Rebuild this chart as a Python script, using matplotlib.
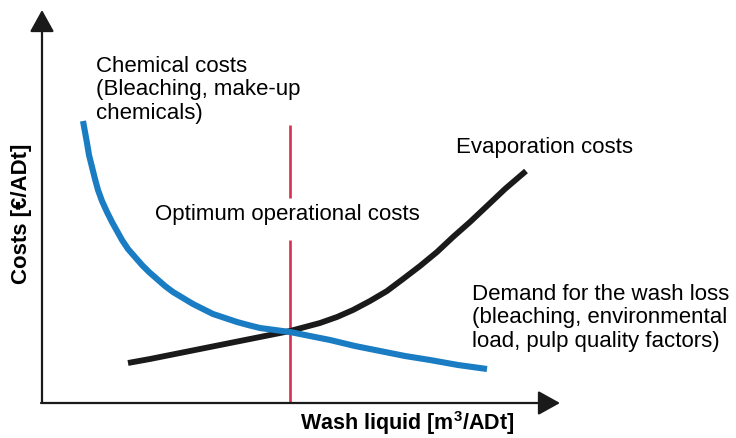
import matplotlib
matplotlib.use("Agg")
import matplotlib.pyplot as plt

plt.rcParams['font.family'] = ['Liberation Sans', 'DejaVu Sans']
plt.rcParams['mathtext.fontset'] = 'custom'
plt.rcParams['mathtext.rm'] = 'Liberation Sans'
plt.rcParams['mathtext.bf'] = 'Liberation Sans:bold'

# curve points (canvas units, y pointing down)
chem_x = [83, 85, 87, 89, 92, 95, 98, 102, 107, 112, 117, 122, 128, 135, 142, 149, 157, 165, 173,
          183, 193, 203, 213, 225, 237, 248, 260, 275, 290, 310, 330, 355, 380, 405, 430, 458, 487]
chem_y = [121, 132, 143, 155, 167, 179, 190, 201, 212, 222, 231, 240, 249, 257, 265, 272, 279, 286, 292,
          298, 304, 309, 314, 318, 322, 325, 328, 330, 332, 336, 340, 346, 351, 356, 360, 365, 369]
evap_x = [128, 150, 170, 195, 220, 240, 260, 275, 290, 305, 320, 337, 353, 370, 387, 403, 420, 437,
          453, 470, 487, 505, 526]
evap_y = [363, 359, 355, 350, 345, 341, 337, 334, 331, 327, 323, 317, 310, 301, 291, 279, 266, 252,
          237, 222, 206, 189, 171]
optimum_x = 290
optimum_top = 125
optimum_gap = (198, 240)
axis_origin = (42, 403)
axis_ends = (560, 10)

labels = {
    'chem': "Chemical costs\n(Bleaching, make-up\nchemicals)",
    'evap': "Evaporation costs",
    'opt': "Optimum operational costs",
    'wash': "Demand for the wash loss\n(bleaching, environmental\nload, pulp quality factors)",
}
xlabel = r"Wash liquid [m$^{\mathbf{3}}$/ADt]"
ylabel = "Costs [€/ADt]"

fig = plt.figure(figsize=(7.36, 4.38), dpi=100)
ax = fig.add_axes([0, 0, 1, 1])
ax.set_xlim(0, 736)
ax.set_ylim(438, 0)
ax.axis('off')

# axes arrows
arrow = dict(arrowstyle='-|>,head_length=0.9,head_width=0.5', mutation_scale=15,
             lw=1.6, color='#1a1a1a', shrinkA=0, shrinkB=0)
ax.annotate('', xy=(axis_origin[0], axis_ends[1]), xytext=axis_origin, arrowprops=arrow)
ax.annotate('', xy=(axis_ends[0], axis_origin[1]), xytext=(axis_origin[0] - 1, axis_origin[1]), arrowprops=arrow)

# optimum line, broken where the text sits
ax.plot([optimum_x, optimum_x], [optimum_top, optimum_gap[0]], color='#d62f4f', lw=1.9, solid_capstyle='butt')
ax.plot([optimum_x, optimum_x], [optimum_gap[1], axis_origin[1]], color='#d62f4f', lw=1.9, solid_capstyle='butt')

ax.plot(evap_x, evap_y, color='#1a1a1a', lw=4.2, solid_capstyle='butt', solid_joinstyle='round')
ax.plot(chem_x, chem_y, color='#1a7dc3', lw=4.4, solid_capstyle='butt', solid_joinstyle='round')

fs = 16
ax.text(96, 56, labels['chem'], fontsize=fs, ha='left', va='top', linespacing=1.15)
ax.text(456, 137, labels['evap'], fontsize=fs, ha='left', va='top')
ax.text(155, 204, labels['opt'], fontsize=fs, ha='left', va='top')
ax.text(472, 284, labels['wash'], fontsize=fs, ha='left', va='top', linespacing=1.15)

ax.text(300, 430, xlabel, fontsize=15.5, fontweight='bold', ha='left', va='baseline')
ax.text(22, 214, ylabel, fontsize=16, fontweight='bold', ha='center', va='center', rotation=90)

fig.savefig('out.png', dpi=100)
